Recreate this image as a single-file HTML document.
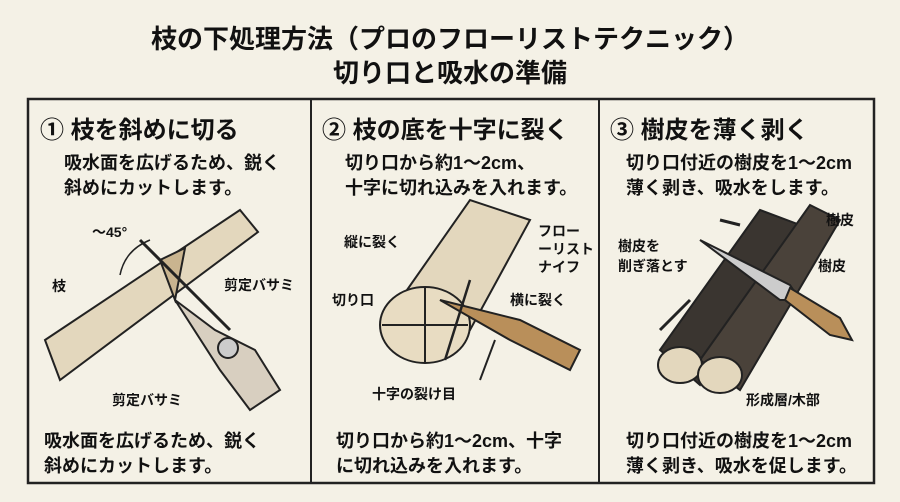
<!DOCTYPE html>
<html><head><meta charset="utf-8"><style>
body{margin:0;width:900px;height:502px;background:#f4f1e6;overflow:hidden;position:relative;font-family:"Liberation Sans","Noto Sans CJK JP",sans-serif;color:#111}
.t{position:absolute;white-space:nowrap;font-weight:bold}
.h{font-size:24px}
.s{font-size:18px}
.l{font-size:14px}
</style></head><body>
<div class="t" style="left:0;width:900px;text-align:center;top:19px;font-size:26px">枝の下処理方法（プロのフローリストテクニック）</div>
<div class="t" style="left:0;width:900px;text-align:center;top:53px;font-size:26px">切り口と吸水の準備</div>
<svg width="900" height="502" style="position:absolute;left:0;top:0" fill="none" stroke="#222" stroke-width="2">
<rect x="28" y="99" width="846" height="384" stroke-width="2.5"/>
<line x1="311" y1="99" x2="311" y2="483" stroke-width="2"/>
<line x1="599" y1="99" x2="599" y2="483" stroke-width="2"/>
<!-- panel1 branch -->
<path d="M45 340 L240 210 L258 232 L60 380 Z" fill="#e3d7bd"/>
<path d="M160 260 L185 248 L175 300 Z" fill="#c9b48f"/>
<path d="M140 240 L200 300 L230 330" stroke-width="3"/>
<path d="M175 300 L215 330 L255 350 L280 390 L250 410 L220 370 Z" fill="#d8cfc0"/>
<circle cx="228" cy="348" r="10" fill="#ccc"/>
<path d="M120 275 Q125 250 150 240" stroke-width="1.5"/>
<!-- panel2 -->
<path d="M400 300 L470 200 L530 220 L470 330 Z" fill="#e3d7bd"/>
<ellipse cx="425" cy="325" rx="45" ry="38" fill="#e8dcc2"/>
<line x1="425" y1="288" x2="425" y2="362"/>
<line x1="382" y1="325" x2="468" y2="325"/>
<path d="M440 300 L520 320 L580 350 L570 370 L510 340 Z" fill="#b98f5a"/>
<path d="M470 280 L445 360" stroke-width="2.5"/>
<path d="M495 340 L480 380"/>
<!-- panel3 -->
<path d="M660 350 L760 210 L800 225 L700 385 Z" fill="#3a3530"/>
<path d="M700 360 L810 205 L840 220 L740 390 Z" fill="#4a423a"/>
<ellipse cx="680" cy="365" rx="22" ry="18" fill="#e3d7bd"/>
<ellipse cx="720" cy="375" rx="22" ry="18" fill="#e3d7bd"/>
<path d="M700 240 L790 285 L800 300 L780 300 Z" fill="#ccc"/>
<path d="M790 288 L840 318 L852 340 L830 335 L785 300 Z" fill="#b98f5a"/>
<path d="M690 300 L660 330" stroke-width="3"/>
<path d="M740 225 L720 220" stroke-width="3"/>
</svg>
<div class="t h" style="left:40px;top:110px">① 枝を斜めに切る</div>
<div class="t s" style="left:64px;top:149px">吸水面を広げるため、鋭く</div>
<div class="t s" style="left:64px;top:174px">斜めにカットします。</div>
<div class="t l" style="left:92px;top:222px">〜45°</div>
<div class="t l" style="left:52px;top:276px">枝</div>
<div class="t l" style="left:224px;top:275px">剪定バサミ</div>
<div class="t l" style="left:112px;top:390px">剪定バサミ</div>
<div class="t s" style="left:44px;top:427px">吸水面を広げるため、鋭く</div>
<div class="t s" style="left:44px;top:452px">斜めにカットします。</div>

<div class="t h" style="left:322px;top:110px">② 枝の底を十字に裂く</div>
<div class="t s" style="left:345px;top:149px">切り口から約1〜2cm、</div>
<div class="t s" style="left:345px;top:174px">十字に切れ込みを入れます。</div>
<div class="t l" style="left:344px;top:232px">縦に裂く</div>
<div class="t l" style="left:538px;top:222px;line-height:18px;white-space:normal;width:60px">フロー<br>ーリスト<br>ナイフ</div>
<div class="t l" style="left:332px;top:290px">切り口</div>
<div class="t l" style="left:510px;top:290px">横に裂く</div>
<div class="t l" style="left:372px;top:384px">十字の裂け目</div>
<div class="t s" style="left:336px;top:427px">切り口から約1〜2cm、十字</div>
<div class="t s" style="left:336px;top:452px">に切れ込みを入れます。</div>

<div class="t h" style="left:610px;top:110px">③ 樹皮を薄く剥く</div>
<div class="t s" style="left:626px;top:149px">切り口付近の樹皮を1〜2cm</div>
<div class="t s" style="left:626px;top:174px">薄く剥き、吸水をします。</div>
<div class="t l" style="left:826px;top:210px">樹皮</div>
<div class="t l" style="left:618px;top:236px;line-height:20px">樹皮を<br>削ぎ落とす</div>
<div class="t l" style="left:818px;top:256px">樹皮</div>
<div class="t l" style="left:746px;top:390px">形成層/木部</div>
<div class="t s" style="left:626px;top:427px">切り口付近の樹皮を1〜2cm</div>
<div class="t s" style="left:626px;top:452px">薄く剥き、吸水を促します。</div>
</body></html>
